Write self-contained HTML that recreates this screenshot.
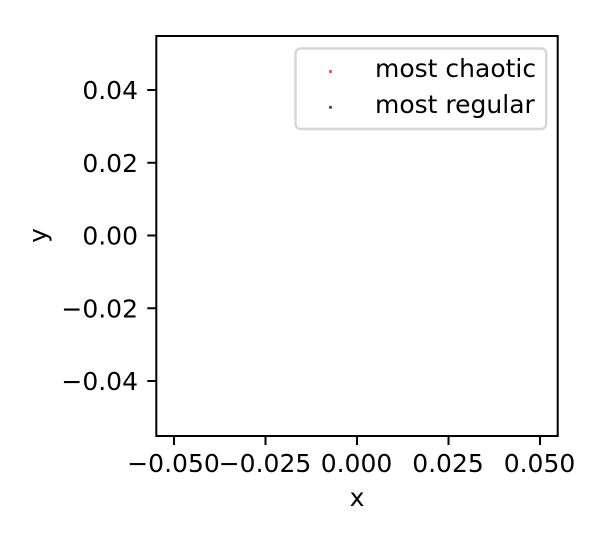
<!DOCTYPE html>
<html>
<head>
<meta charset="utf-8">
<style>
html,body{margin:0;padding:0;background:#fff;width:594px;height:540px;overflow:hidden}
svg{display:block}
text{font-family:"DejaVu Sans","Liberation Sans",sans-serif;font-size:25px;fill:#000}
</style>
</head>
<body>
<svg id="chart" xmlns="http://www.w3.org/2000/svg" width="594" height="540" viewBox="0 0 594 540"></svg>
<script>
var xTickValues = [-0.05, -0.025, 0, 0.025, 0.05];
var xTickLabels = ["\u22120.050", "\u22120.025", "0.000", "0.025", "0.050"];
var yTickValues = [-0.04, -0.02, 0, 0.02, 0.04];
var yTickLabels = ["\u22120.04", "\u22120.02", "0.00", "0.02", "0.04"];
var seriesNames = ["most chaotic", "most regular"];
var seriesColors = ["#ff0000", "#000000"];
var chaoticX = [];
var chaoticY = [];
var regularX = [];
var regularY = [];

var svg = document.getElementById('chart');
var NS = 'http://www.w3.org/2000/svg';
var plot = {left: 156.3, right: 557.7, top: 36, bottom: 436};

function xScale(v) { return 357 + v * 3660; }
function yScale(v) { return 235.5 - v * 3637.5; }

function make(tag, attrs, parent) {
  var el = document.createElementNS(NS, tag);
  for (var k in attrs) { el.setAttribute(k, attrs[k]); }
  (parent || svg).appendChild(el);
  return el;
}

var bg = make('rect', {x: plot.left, y: plot.top, width: plot.right - plot.left, height: plot.bottom - plot.top, fill: '#fff'});



function drawPoints(xs, ys, color, name) {
  for (var i = 0; i < xs.length; i++) {
    var p = make('circle', {cx: xScale(xs[i]), cy: yScale(ys[i]), r: 1.6, fill: color, opacity: 0.7});
    
    
  }
}
drawPoints(chaoticX, chaoticY, seriesColors[0], 'chaotic-point');
drawPoints(regularX, regularY, seriesColors[1], 'regular-point');

xTickValues.forEach(function (v, i) {
  var px = xScale(v);
  var tick = make('line', {x1: px, x2: px, y1: plot.bottom, y2: plot.bottom + 9, stroke: '#000', 'stroke-width': 2});
  
  
  var label = make('text', {x: px - 0.5, y: 472, 'text-anchor': 'middle'});
  label.textContent = xTickLabels[i];
  
  
});

yTickValues.forEach(function (v, i) {
  var py = yScale(v);
  var tick = make('line', {x1: plot.left - 9, x2: plot.left, y1: py, y2: py, stroke: '#000', 'stroke-width': 2});
  
  
  var label = make('text', {x: 138, y: py + 9, 'text-anchor': 'end'});
  label.textContent = yTickLabels[i];
  
  
});

var frame = make('rect', {x: plot.left, y: plot.top, width: plot.right - plot.left, height: plot.bottom - plot.top, fill: 'none', stroke: '#000', 'stroke-width': 2});



var xTitle = make('text', {x: 357, y: 506, 'text-anchor': 'middle'});
xTitle.textContent = 'x';



var yTitle = make('text', {x: 0, y: 0, 'text-anchor': 'middle', transform: 'translate(46.5,235.5) rotate(-90)'});
yTitle.textContent = 'y';



var legend = make('rect', {x: 295.5, y: 48.5, width: 250.7, height: 80.5, rx: 5, ry: 5, fill: '#fff', 'fill-opacity': 0.8, stroke: '#d6d6d6', 'stroke-width': 2.4});



seriesNames.forEach(function (name, i) {
  var rowY = 71.5 + i * 35.8;
  var marker = make('circle', {cx: 330.5, cy: rowY, r: 1.6, fill: seriesColors[i], opacity: 0.7});
  
  
  var label = make('text', {x: 375, y: 77 + i * 36});
  label.textContent = name;
  
  
});
</script>
</body>
</html>
